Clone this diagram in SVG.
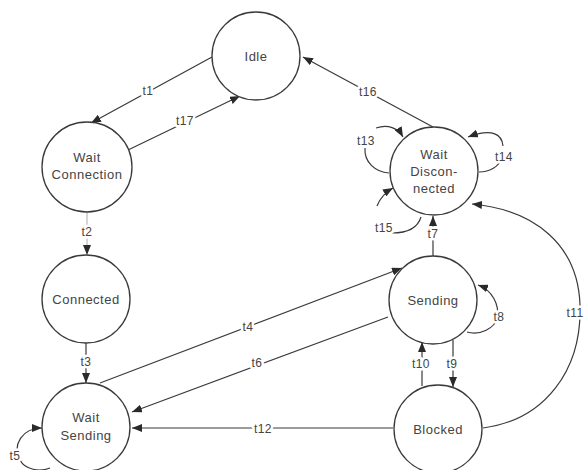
<svg xmlns="http://www.w3.org/2000/svg" width="585" height="470" viewBox="0 0 585 470">
<style>
.node circle{fill:#fff;stroke:#3a3a3a;stroke-width:1.3}
.node text{font-family:"Liberation Sans",Arial,sans-serif;font-size:13px;letter-spacing:0.5px;fill:#444;text-anchor:middle}
.edges path{fill:none;stroke:#3a3a3a;stroke-width:1.2}
.edges .arr{marker-end:url(#ah)}
.lbl{font-family:"Liberation Sans",Arial,sans-serif;font-size:12px;letter-spacing:0.4px;fill:#444;text-anchor:middle;stroke:#fff;stroke-width:5px;paint-order:stroke;stroke-linejoin:round}
</style>
<defs>
<marker id="ah" markerUnits="userSpaceOnUse" markerWidth="10" markerHeight="8" refX="10" refY="4" orient="auto">
<path d="M0,0 L10,4 L0,8 z" fill="#2a2a2a"/>
</marker>
</defs>
<rect width="585" height="470" fill="#fff"/>
<g id="edges" class="edges">
<path class="arr" d="M212,57 L91,123"/>
<path class="arr" d="M128,150 L240,96"/>
<path class="arr" d="M433,127 L303,57"/>
<path class="arr" d="M87,212 L87,255" stroke-opacity="0.35"/>
<path class="arr" d="M86,343 L86,383"/>
<path class="arr" d="M100,383 L402,268"/>
<path class="arr" d="M388,317 L132,412"/>
<path class="arr" d="M393,428 L132,428"/>
<path class="arr" d="M433,256 L433,216"/>
<path class="arr" d="M422,386 L422,342"/>
<path class="arr" d="M453,340 L453,387"/>
<path class="arr" d="M483,428 C545,420 582,370 580,305 C578,245 535,210 472,204"/>
<path class="arr" d="M467,332 C480,336 495,328 497,318 C500,305 492,290 478,285"/>
<path class="arr" d="M389,173 C375,172 364,162 365,148 M376,128 C388,124 398,128 403,137"/>
<path class="arr" d="M479,172 C490,172 500,166 501,158 M503,146 C502,134 492,128 468,137"/>
<path class="arr" d="M421,217 C418,227 410,233 392,233 M377,206 C380,198 386,192 393,188"/>
<path class="arr" d="M50,468 C40,472 25,470 20,460 C12,445 22,428 42,428"/>
</g>
<g id="edge-labels">
<text class="lbl" x="148" y="95">t1</text>
<text class="lbl" x="185" y="125">t17</text>
<text class="lbl" x="368" y="96">t16</text>
<text class="lbl" x="87" y="236">t2</text>
<text class="lbl" x="86" y="366">t3</text>
<text class="lbl" x="248" y="331">t4</text>
<text class="lbl" x="257" y="367">t6</text>
<text class="lbl" x="263" y="433">t12</text>
<text class="lbl" x="433" y="238">t7</text>
<text class="lbl" x="421" y="368">t10</text>
<text class="lbl" x="452" y="368">t9</text>
<text class="lbl" x="575" y="317">t11</text>
<text class="lbl" x="499" y="321">t8</text>
<text class="lbl" x="366" y="145">t13</text>
<text class="lbl" x="504" y="161">t14</text>
<text class="lbl" x="384" y="232">t15</text>
<text class="lbl" x="15" y="460">t5</text>
</g>
<g id="idle" class="node"><circle cx="256" cy="56" r="44"/><text x="256" y="61">Idle</text></g>
<g id="wait-connection" class="node"><circle cx="87" cy="167" r="45"/><text x="87" y="162">Wait</text><text x="87" y="179">Connection</text></g>
<g id="connected" class="node"><circle cx="86" cy="299" r="44"/><text x="86" y="304">Connected</text></g>
<g id="wait-sending" class="node"><circle cx="86" cy="427" r="44"/><text x="86" y="422">Wait</text><text x="86" y="440">Sending</text></g>
<g id="wait-disconnected" class="node"><circle cx="434" cy="171" r="44"/><text x="434" y="159">Wait</text><text x="434" y="176">Discon-</text><text x="434" y="193">nected</text></g>
<g id="sending" class="node"><circle cx="433" cy="300" r="44"/><text x="433" y="305">Sending</text></g>
<g id="blocked" class="node"><circle cx="438" cy="429" r="44"/><text x="438" y="434">Blocked</text></g>
</svg>
